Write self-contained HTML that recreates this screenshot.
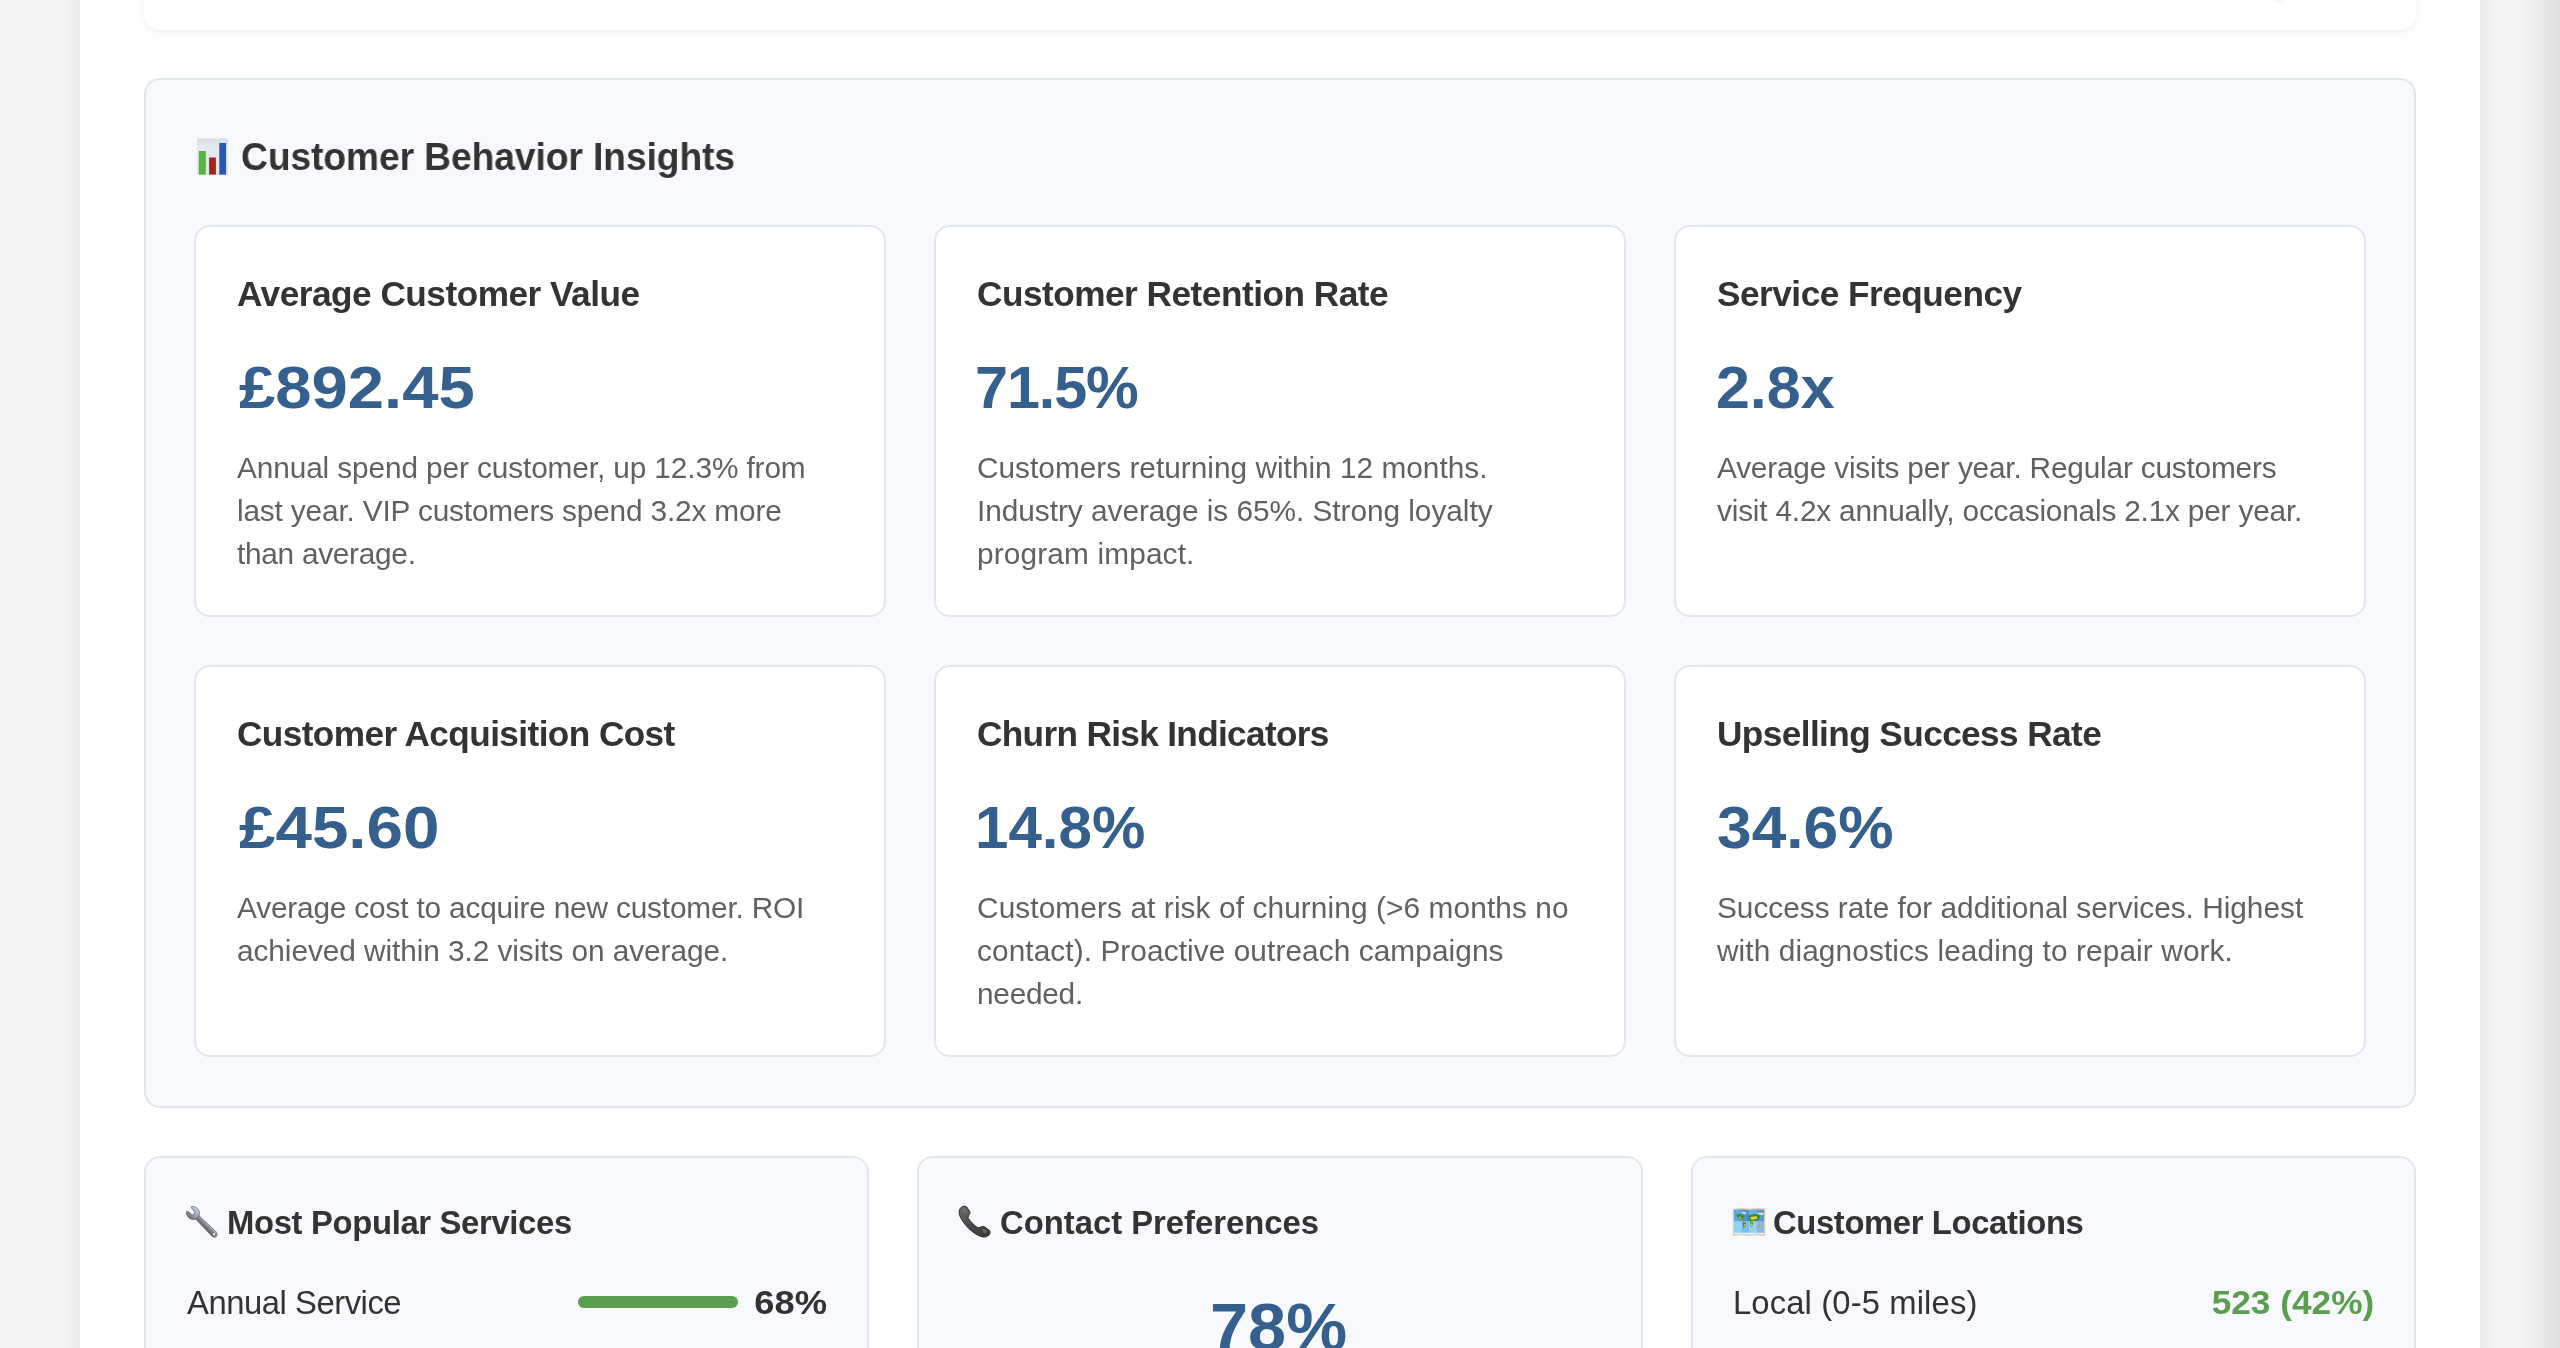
<!DOCTYPE html>
<html>
<head>
<meta charset="utf-8">
<style>
*{box-sizing:border-box;margin:0;padding:0}
html,body{width:2560px;height:1348px;overflow:hidden}
body{background:#f4f4f4;font-family:"Liberation Sans",sans-serif;position:relative;color:#333}
.edge{position:absolute;right:0;top:0;width:44px;height:1348px;background:linear-gradient(to right,rgba(0,0,0,0) 0%,rgba(0,0,0,0.02) 35%,rgba(0,0,0,0.085) 100%)}
.container{position:absolute;left:80px;top:-200px;width:2400px;height:1800px;background:#fff;box-shadow:0 0 20px rgba(0,0,0,0.08)}
.topcard{position:absolute;left:144px;top:-100px;width:2272px;height:130px;background:#fff;border-radius:16px;box-shadow:0 3px 9px rgba(0,0,0,0.06)}
.section{position:absolute;left:144px;top:78px;width:2272px;height:1030px;background:#f8f9fc;border:2px solid #e1e7ef;border-radius:16px}
.card{position:absolute;width:692px;height:392px;background:#fff;border:2px solid #e1e7ef;border-radius:16px}
.bcard{position:absolute;top:1156px;width:725.33px;height:300px;background:#f8f9fc;border:2px solid #e1e7ef;border-radius:16px}
.t{position:absolute;white-space:nowrap;will-change:transform}
.stitle{left:240.6px;top:133.4px;font-size:38.8px;line-height:48px;font-weight:bold;color:#333;letter-spacing:-0.11px;transform:scaleX(0.96);transform-origin:0 0}
.ctitle{left:41px;top:45.15px;font-size:35.2px;line-height:44px;font-weight:bold;color:#333;letter-spacing:-0.49px}
.cval{left:41px;top:126.4px;font-size:59.3px;line-height:70px;font-weight:bold;color:#355f8d}
.cdesc{left:41px;top:219.2px;font-size:29.8px;line-height:43.2px;color:#616161}
.bh{top:45.1px;font-size:32.8px;line-height:40px;font-weight:bold;color:#333}
.brow{top:125.2px;font-size:32.8px;line-height:40px;color:#333}
@media (max-width:1400px){html{zoom:0.5}}
</style>
</head>
<body>
<div class="container"></div>
<div class="edge"></div>
<div class="topcard"></div>
<div style="position:absolute;left:2272px;top:-5px;width:14px;height:9px;border-radius:50%;background:radial-gradient(ellipse at center,rgba(0,0,0,0.06) 0%,rgba(0,0,0,0) 70%)"></div>

<div class="section">
</div>

<!-- section title -->
<svg style="position:absolute;left:196px;top:137px" width="34" height="40" viewBox="0 0 34 40">
  <defs>
    <linearGradient id="bgG" x1="0" y1="0" x2="0" y2="1"><stop offset="0" stop-color="#d9dee5"/><stop offset="0.3" stop-color="#e6ebf1"/><stop offset="1" stop-color="#dde2e9"/></linearGradient>
  </defs>
  <rect x="1" y="1.4" width="31" height="36.6" fill="url(#bgG)"/>
  <rect x="2.8" y="14" width="7" height="23.6" fill="#55b53a"/>
  <rect x="13.1" y="20.5" width="6.8" height="17.1" fill="#a82318"/>
  <rect x="23.3" y="6" width="6.8" height="31.6" fill="#2657b9"/>
</svg>
<div class="t stitle">Customer Behavior Insights</div>

<!-- cards row 1 -->
<div class="card" style="left:194px;top:225px">
  <div class="t ctitle">Average Customer Value</div>
  <div class="t cval" style="left:42.9px;transform:scaleX(1.1);transform-origin:0 0">£892.45</div>
  <div class="t cdesc"><span style="letter-spacing:-0.113px">Annual spend per customer, up 12.3% from</span><br><span style="letter-spacing:-0.159px">last year. VIP customers spend 3.2x more</span><br><span style="letter-spacing:-0.275px">than average.</span></div>
</div>
<div class="card" style="left:934px;top:225px">
  <div class="t ctitle">Customer Retention Rate</div>
  <div class="t cval" style="left:39.2px;letter-spacing:-1.1px">71.5%</div>
  <div class="t cdesc"><span style="letter-spacing:0.011px">Customers returning within 12 months.</span><br><span style="letter-spacing:-0.032px">Industry average is 65%. Strong loyalty</span><br><span style="letter-spacing:0.150px">program impact.</span></div>
</div>
<div class="card" style="left:1674px;top:225px">
  <div class="t ctitle">Service Frequency</div>
  <div class="t cval" style="left:40px;transform:scaleX(1.027);transform-origin:0 0">2.8x</div>
  <div class="t cdesc"><span style="letter-spacing:-0.193px">Average visits per year. Regular customers</span><br><span style="letter-spacing:-0.191px">visit 4.2x annually, occasionals 2.1x per year.</span></div>
</div>
<!-- cards row 2 -->
<div class="card" style="left:194px;top:665px">
  <div class="t ctitle" style="letter-spacing:-0.58px">Customer Acquisition Cost</div>
  <div class="t cval" style="left:42.7px;transform:scaleX(1.105);transform-origin:0 0">£45.60</div>
  <div class="t cdesc"><span style="letter-spacing:-0.170px">Average cost to acquire new customer. ROI</span><br><span style="letter-spacing:-0.065px">achieved within 3.2 visits on average.</span></div>
</div>
<div class="card" style="left:934px;top:665px">
  <div class="t ctitle" style="letter-spacing:-0.66px">Churn Risk Indicators</div>
  <div class="t cval" style="left:39px;transform:scaleX(1.013);transform-origin:0 0">14.8%</div>
  <div class="t cdesc"><span style="letter-spacing:0.107px">Customers at risk of churning (&gt;6 months no</span><br><span style="letter-spacing:0.084px">contact). Proactive outreach campaigns</span><br><span style="letter-spacing:-0.250px">needed.</span></div>
</div>
<div class="card" style="left:1674px;top:665px">
  <div class="t ctitle" style="letter-spacing:-0.58px">Upselling Success Rate</div>
  <div class="t cval" style="left:41px;transform:scaleX(1.05);transform-origin:0 0">34.6%</div>
  <div class="t cdesc"><span style="letter-spacing:-0.002px">Success rate for additional services. Highest</span><br><span style="letter-spacing:0.105px">with diagnostics leading to repair work.</span></div>
</div>

<!-- bottom cards -->
<div class="bcard" style="left:144px">
  <svg style="position:absolute;left:36px;top:44px" width="40" height="40" viewBox="0 0 40 40">
  <defs>
    <linearGradient id="wg" x1="0" y1="0" x2="0" y2="1"><stop offset="0" stop-color="#c4d0de"/><stop offset="0.5" stop-color="#9aa6b6"/><stop offset="1" stop-color="#6c6670"/></linearGradient>
    <linearGradient id="wh" x1="0" y1="0" x2="0" y2="1"><stop offset="0" stop-color="#b4c2d2"/><stop offset="0.35" stop-color="#8a8c96"/><stop offset="1" stop-color="#5e565c"/></linearGradient>
  </defs>
  <g transform="translate(11.4,11.4) rotate(45)">
    <path d="M 4.6,-2.3 L 27,-3 C 29.6,-3.5 32.5,-2.3 32.5,0 C 32.5,2.3 29.6,3.5 27,3 L 4.6,2.3 Z" fill="url(#wh)" stroke="#56505a" stroke-width="0.6"/>
    <path d="M -6.2,-3.3 C -4,-7.3 3,-7.6 5.6,-2.6 L 5.6,2.6 C 3,7.6 -4,7.3 -6.2,3.3 L -4.6,2.2 L -1.2,2.2 A 2.2,2.2 0 0 0 -1.2,-2.2 L -4.6,-2.2 Z" fill="url(#wg)" stroke="#56505a" stroke-width="0.6"/>
    <circle cx="29.3" cy="0" r="1.5" fill="#f8f9fc" stroke="#56505a" stroke-width="0.5"/>
  </g>
</svg>
  <div class="t bh" style="left:80.8px;letter-spacing:-0.33px">Most Popular Services</div>
  <div class="t brow" style="left:41px;letter-spacing:-0.46px">Annual Service</div>
  <div style="position:absolute;left:432px;top:138px;width:160px;height:12px;border-radius:6px;background:#5a9e50"></div>
  <div class="t brow" style="right:40px;font-weight:bold;font-size:33.5px;transform:scaleX(1.085);transform-origin:100% 0">68%</div>
</div>
<div class="bcard" style="left:917.33px">
  <svg style="position:absolute;left:34.67px;top:44px" width="40" height="40" viewBox="0 0 40 40">
  <defs>
    <linearGradient id="pg" x1="0" y1="0" x2="1" y2="1"><stop offset="0" stop-color="#6a6a6a"/><stop offset="0.5" stop-color="#4a4a4a"/><stop offset="1" stop-color="#3a3a3a"/></linearGradient>
  </defs>
  <path d="M 6.6,5.8 C 8.6,4 11.3,3.6 12.6,4.8 L 15.8,9.6 C 16.4,10.8 15.8,12.2 14.9,13.3 L 13.9,15.8 C 16.8,20 20.2,23.4 24.2,26 L 26.8,25 C 28,24.3 29.4,24.2 30.5,24.8 L 35.2,28.2 C 36.6,29.4 36.4,31.6 35,33 C 33,34.9 30,35.6 26.8,34.5 C 18,31 10,23 5.9,14.2 C 4.7,11.2 4.7,8 6.6,5.8 Z" fill="url(#pg)" stroke="#2a2a2a" stroke-width="0.9"/>
  <path d="M 8,8 C 9,6.6 10.6,6.2 11.8,6.8 L 13.8,10 C 12.8,11 11.5,11.4 10.2,11 Z" fill="#7c7c7c" opacity="0.6"/>
  <path d="M 28,27.4 C 29,26.8 30.2,26.8 31,27.4 L 33.4,29.4 C 32.6,30.8 31,31.2 29.6,30.8 Z" fill="#7c7c7c" opacity="0.6"/>
</svg>
  <div class="t bh" style="left:80.7px">Contact Preferences</div>
  <div class="t" style="left:-1.2px;width:721px;text-align:center;top:129px;font-size:67px;line-height:80px;font-weight:bold;color:#355f8d;transform:scaleX(1.022);transform-origin:50% 0">78%</div>
</div>
<div class="bcard" style="left:1690.67px">
  <svg style="position:absolute;left:36.33px;top:44px" width="40" height="40" viewBox="0 0 40 40">
  <path d="M4.2,7 Q12,5.8 20,7 Q28,5.8 35.9,7 L35.9,33.4 Q28,32.4 20,33.4 Q12,32.4 4.2,33.4 Z" fill="#ead3b4" stroke="#d6b994" stroke-width="0.5"/>
  <defs><clipPath id="mapclip"><path d="M4.9,7.7 Q12,6.5 20,7.7 Q28,6.5 35.2,7.7 L35.2,32.7 Q28,31.7 20,32.7 Q12,31.7 4.9,32.7 Z"/></clipPath></defs>
  <g clip-path="url(#mapclip)">
  <rect x="4.8" y="7.4" width="7.6" height="12.2" fill="#5ea6df"/>
  <rect x="12.4" y="7.4" width="7.6" height="12.2" fill="#4f92cf"/>
  <rect x="20" y="7.4" width="7.4" height="12.2" fill="#67b0e6"/>
  <rect x="27.4" y="7.4" width="8" height="12.2" fill="#5598d2"/>
  <rect x="4.8" y="19.6" width="7.6" height="13" fill="#8fd3f6"/>
  <rect x="12.4" y="19.6" width="7.6" height="13" fill="#7bbdee"/>
  <rect x="20" y="19.6" width="7.4" height="13" fill="#93d2f5"/>
  <rect x="27.4" y="19.6" width="8" height="13" fill="#7dbcec"/>
  <path d="M7,13 Q10,11.4 14,13 L14.6,15.4 L12.6,17.2 L11.6,19 L10.2,16.4 Q8,15 7,13 Z" fill="#3e8a2a"/>
  <path d="M10.2,14.6 L11.8,14.4 L12,17.4 L11,17.6 Z" fill="#e4c640"/>
  <path d="M13.8,19.8 Q16,19.6 17,21.4 L16,24.6 L14.6,26.6 L14,23.6 Q13.2,21.6 13.8,19.8 Z" fill="#4d9430"/>
  <path d="M15,22 L16.4,22.2 L15.4,25 Z" fill="#e4c640"/>
  <path d="M19.6,13.6 Q24,11.2 30.4,12.6 L31,15.4 L29.4,18 L26,19 L23.6,18.4 L21,19.4 L19.4,17.6 Z" fill="#3e8a2a"/>
  <path d="M21.4,15 L27.6,14.2 L28.6,16.4 L25,17.6 L22,17.8 Z" fill="#e8d24a"/>
  <path d="M21,19.6 L23.6,19.2 L24.4,21.6 L23,24.6 L21.8,24.4 L21,21.6 Z" fill="#5c9e32"/>
  <path d="M21.6,21.6 L23.6,21.4 L22.8,24 Z" fill="#f0d050"/>
  <ellipse cx="30.5" cy="24.2" rx="1.6" ry="1.2" fill="#f08a28"/>
  <path d="M12.6,10 Q15,9.2 17.4,10.6 L16.4,12.2 L13.6,11.8 Z" fill="#d8dde4"/>
  <path d="M5,30.8 L35.2,30.8 L35.2,32.6 L5,32.6 Z" fill="#eef4f8" opacity="0.9"/>
  <path d="M27.6,11.2 Q31,10 34.6,11 L34.4,13 L30,12.8 Z" fill="#dfe6ea" opacity="0.9"/>
</g>
</svg>
  <div class="t bh" style="left:80.1px;letter-spacing:-0.37px">Customer Locations</div>
  <div class="t brow" style="left:40px;letter-spacing:0.12px">Local (0-5 miles)</div>
  <div class="t brow" style="right:40px;font-weight:bold;color:#5a9e50;transform:scaleX(1.075);transform-origin:100% 0">523 (42%)</div>
</div>

</body>
</html>
